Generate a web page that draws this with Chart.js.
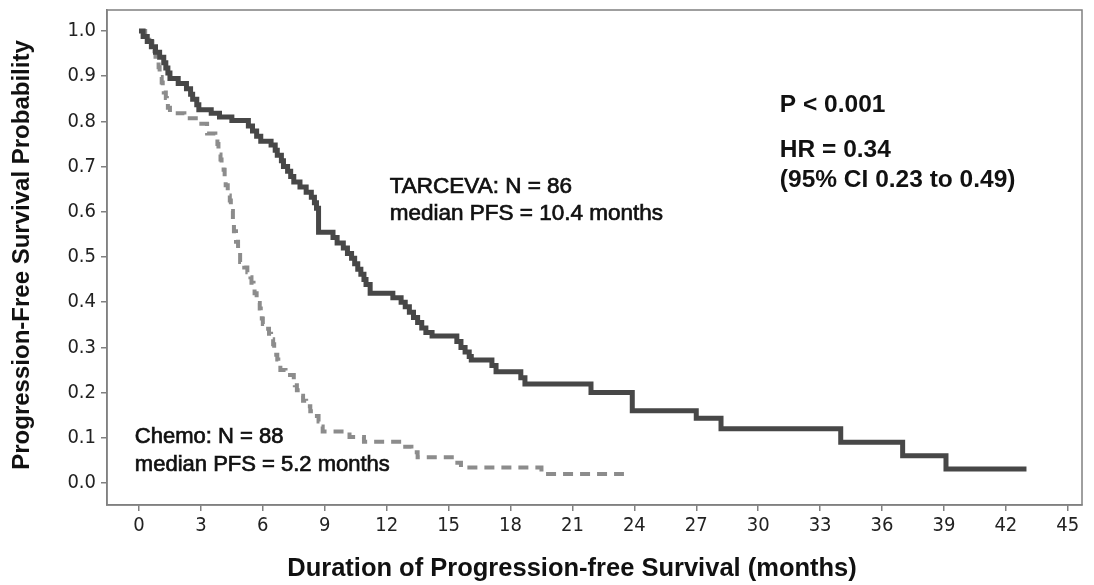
<!DOCTYPE html>
<html>
<head>
<meta charset="utf-8">
<script src="https://cdn.jsdelivr.net/npm/chart.js@4/dist/chart.umd.min.js"></script>
<style>
  html, body { margin: 0; padding: 0; background: #ffffff; }
  #wrap { width: 1094px; height: 585px; position: relative; }
</style>
</head>
<body>
<div id="wrap"><canvas id="c" width="1094" height="585"></canvas></div>
<script>
// ---- data ----
const tarcevaMonths = [0, 0.2, 0.4, 0.6, 0.8, 1.0, 1.2, 1.3, 1.4, 1.5, 1.9, 2.3, 2.5, 2.6, 2.8, 2.9, 3.5, 3.9, 4.5, 5.3, 5.5, 5.7, 5.9, 6.4, 6.6, 6.7, 6.9, 7.0, 7.2, 7.35, 7.5, 7.8, 8.1, 8.35, 8.5, 8.6, 8.7, 9.4, 9.6, 9.9, 10.1, 10.3, 10.45, 10.6, 10.75, 10.9, 11.0, 11.2, 12.3, 12.7, 12.9, 13.1, 13.3, 13.5, 13.7, 13.9, 14.2, 15.4, 15.6, 15.8, 16.0, 16.1, 17.1, 17.3, 18.5, 18.7, 21.9, 23.9, 27.0, 28.2, 34.0, 37.0, 39.1, 43.0];
const tarcevaSurv   = [1.0, 0.988, 0.977, 0.965, 0.953, 0.942, 0.930, 0.918, 0.907, 0.895, 0.884, 0.872, 0.860, 0.849, 0.837, 0.826, 0.818, 0.810, 0.802, 0.790, 0.779, 0.767, 0.756, 0.748, 0.736, 0.725, 0.713, 0.700, 0.690, 0.678, 0.666, 0.655, 0.643, 0.632, 0.620, 0.608, 0.555, 0.543, 0.531, 0.520, 0.508, 0.497, 0.485, 0.473, 0.462, 0.450, 0.439, 0.420, 0.410, 0.400, 0.390, 0.378, 0.366, 0.355, 0.343, 0.333, 0.325, 0.313, 0.300, 0.290, 0.280, 0.272, 0.260, 0.246, 0.233, 0.219, 0.200, 0.160, 0.143, 0.120, 0.090, 0.060, 0.031, 0.031];

const chemoMonths = [0, 0.3, 0.5, 0.65, 0.75, 0.8, 0.9, 0.95, 1.0, 1.05, 1.1, 1.15, 1.2, 1.3, 1.35, 1.4, 1.5, 2.2, 2.9, 3.3, 3.7, 3.8, 3.85, 3.9, 3.95, 4.0, 4.1, 4.15, 4.2, 4.3, 4.4, 4.45, 4.55, 4.6, 4.7, 4.8, 4.9, 5.1, 5.25, 5.4, 5.45, 5.55, 5.6, 5.7, 5.75, 5.85, 5.9, 5.95, 6.0, 6.15, 6.3, 6.4, 6.5, 6.55, 6.65, 6.7, 6.75, 6.85, 7.1, 7.5, 7.55, 7.65, 7.8, 7.95, 8.1, 8.3, 8.5, 8.7, 8.8, 8.9, 10.2, 10.9, 12.9, 13.2, 13.5, 15.3, 15.6, 19.5, 23.4];
const chemoSurv   = [1.0, 0.99, 0.977, 0.966, 0.955, 0.943, 0.932, 0.920, 0.909, 0.898, 0.886, 0.875, 0.864, 0.852, 0.841, 0.830, 0.818, 0.807, 0.795, 0.773, 0.761, 0.750, 0.739, 0.727, 0.716, 0.705, 0.693, 0.670, 0.659, 0.636, 0.625, 0.602, 0.580, 0.557, 0.534, 0.511, 0.489, 0.477, 0.466, 0.455, 0.443, 0.432, 0.420, 0.409, 0.398, 0.386, 0.375, 0.364, 0.352, 0.341, 0.330, 0.318, 0.307, 0.295, 0.284, 0.273, 0.261, 0.250, 0.239, 0.227, 0.216, 0.205, 0.193, 0.182, 0.170, 0.159, 0.148, 0.136, 0.125, 0.114, 0.102, 0.091, 0.080, 0.068, 0.057, 0.045, 0.034, 0.020, 0.0];

const xTickValues = [0, 3, 6, 9, 12, 15, 18, 21, 24, 27, 30, 33, 36, 39, 42, 45];
const yTickValues = [0, 0.1, 0.2, 0.3, 0.4, 0.5, 0.6, 0.7, 0.8, 0.9, 1.0];
const yTickLabels = ['0.0', '0.1', '0.2', '0.3', '0.4', '0.5', '0.6', '0.7', '0.8', '0.9', '1.0'];

const xTitle = 'Duration of Progression-free Survival (months)';
const yTitle = 'Progression-Free Survival Probability';

const FAM = '"Liberation Sans", Arial, sans-serif';
const NARROW = '"Liberation Sans Narrow", "DejaVu Sans Condensed", "Liberation Sans", sans-serif';
// annotations: [text, month, probability, font, extra stroke]
const notes = [
  ['P < 0.001', 31.05, 0.836, 'bold 24.5px ' + FAM, 0],
  ['HR = 0.34', 31.05, 0.737, 'bold 24.5px ' + FAM, 0],
  ['(95% CI 0.23 to 0.49)', 31.05, 0.670, 'bold 24.5px ' + FAM, 0],
  ['TARCEVA: N = 86', 12.15, 0.655, '22.5px ' + FAM, 0.7],
  ['median PFS = 10.4 months', 12.15, 0.595, '22.5px ' + FAM, 0.7],
  ['Chemo: N = 88', -0.2, 0.102, '22px ' + FAM, 0.7],
  ['median PFS = 5.2 months', -0.2, 0.040, '22px ' + FAM, 0.7]
];

const toXY = (xs, ys) => xs.map((x, i) => ({ x: x, y: ys[i] }));

const framePlugin = {
  id: 'frame',
  afterDraw(chart) {
    const { ctx, chartArea: a, scales } = chart;
    ctx.save();
    ctx.strokeStyle = '#808080';
    ctx.lineWidth = 1.5;
    ctx.strokeRect(a.left, a.top, a.right - a.left, a.bottom - a.top);
    ctx.fillStyle = '#111';
    ctx.strokeStyle = '#111';
    ctx.textBaseline = 'middle';
    ctx.textAlign = 'left';
    notes.forEach(n => {
      ctx.font = n[3];
      const px = scales.x.getPixelForValue(n[1]);
      const py = scales.y.getPixelForValue(n[2]);
      ctx.fillText(n[0], px, py);
      if (n[4] > 0) { ctx.lineWidth = n[4]; ctx.strokeText(n[0], px, py); }
    });
    // axis titles
    ctx.textAlign = 'center';
    ctx.font = 'bold 25.5px ' + FAM;
    ctx.fillText(xTitle, 572, 569);
    ctx.font = 'bold 24px ' + FAM;
    ctx.translate(22, 255);
    ctx.rotate(-Math.PI / 2);
    ctx.fillText(yTitle, 0, 0);
    ctx.restore();
  }
};

new Chart(document.getElementById('c'), {
  type: 'line',
  data: {
    datasets: [
      {
        label: 'TARCEVA',
        data: toXY(tarcevaMonths, tarcevaSurv),
        stepped: 'before',
        borderColor: '#474747',
        borderWidth: 5,
        pointRadius: 0,
        fill: false
      },
      {
        label: 'Chemo',
        data: toXY(chemoMonths, chemoSurv),
        stepped: 'before',
        borderColor: '#8c8c8c',
        borderWidth: 4,
        borderDash: [10, 7],
        pointRadius: 0,
        fill: false
      }
    ]
  },
  options: {
    responsive: false,
    animation: false,
    layout: { padding: { left: 0, right: 12, top: 10, bottom: 0 } },
    plugins: { legend: { display: false }, tooltip: { enabled: false } },
    scales: {
      x: {
        type: 'linear',
        min: -1.55,
        max: 45.69,
        afterBuildTicks: s => { s.ticks = xTickValues.map(v => ({ value: v })); },
        afterFit: s => { s.height = 80; s.paddingLeft = 0; s.paddingRight = 0; },
        grid: { drawOnChartArea: false, drawTicks: true, tickLength: 6, color: '#808080', lineWidth: 1.5 },
        border: { display: true, color: '#808080', width: 1.5 },
        ticks: { color: '#222', padding: 3, font: { family: NARROW, size: 20 }, maxRotation: 0, autoSkip: false }
      },
      y: {
        type: 'linear',
        min: -0.0487,
        max: 1.0465,
        afterBuildTicks: s => { s.ticks = yTickValues.map(v => ({ value: v })); },
        afterFit: s => { s.width = 107; s.paddingTop = 0; s.paddingBottom = 0; },
        grid: { drawOnChartArea: false, drawTicks: true, tickLength: 6, color: '#808080', lineWidth: 1.5 },
        border: { display: true, color: '#808080', width: 1.5 },
        ticks: {
          color: '#222', padding: 5, autoSkip: false,
          font: { family: NARROW, size: 20 },
          callback: (v) => { const i = yTickValues.findIndex(t => Math.abs(t - v) < 1e-9); return i >= 0 ? yTickLabels[i] : ''; }
        }
      }
    }
  },
  plugins: [framePlugin]
});
</script>
</body>
</html>
